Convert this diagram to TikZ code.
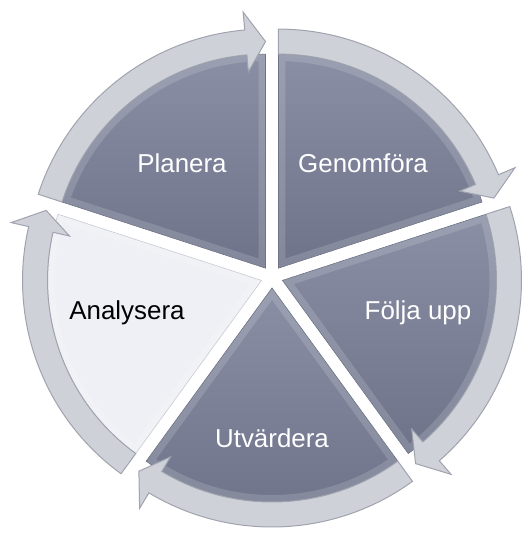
\documentclass[tikz,border=0pt]{standalone}
\usepackage{fontspec}
\setmainfont{Liberation Sans}
\usetikzlibrary{calc}

\definecolor{slateTop}{HTML}{8A8FA5}
\definecolor{slateBot}{HTML}{6E738A}
\definecolor{slateEdge}{HTML}{5F6478}
\definecolor{paleFill}{HTML}{EEF0F5}
\definecolor{paleEdge}{HTML}{C4C7D1}
\definecolor{ringFill}{HTML}{CFD1D9}
\definecolor{ringEdge}{HTML}{9FA3AE}

\begin{document}
\begin{tikzpicture}
    [
        x=1bp, y=1bp,
        segment/.style      = {top color=slateTop, bottom color=slateBot, draw=slateEdge, line width=0.6},
        lightsegment/.style = {fill=paleFill, draw=paleEdge, line width=0.6},
        ringarrow/.style    = {fill=ringFill, draw=ringEdge, line width=1, line join=miter},
        phase/.style        = {text=white, font=\fontsize{26}{31}\selectfont}
    ]
    \useasboundingbox (0,0) rectangle (526,534);
    \coordinate (mid) at (272,257);

    % the five wedges, each pushed out a little along its middle
    \foreach \a/\b/\kind in {90/162/segment, 18/90/segment, -54/18/segment, -126/-54/segment, 162/234/lightsegment}
    {
        \pgfmathsetmacro\bis{(\a+\b)/2}
        \begin{scope}[shift={($(mid)+(\bis:11)$)}]
            \path[\kind] (0,0) -- (\a:214) arc[start angle=\a, end angle=\b, radius=214] -- cycle;
            \begin{scope}
                \clip (0,0) -- (\a:214) arc[start angle=\a, end angle=\b, radius=214] -- cycle;
                \draw[white, opacity=0.15, line width=14] (0,0) -- (\a:214) arc[start angle=\a, end angle=\b, radius=214] -- cycle;
            \end{scope}
        \end{scope}
    }

    % curved arrows round the outside
    \foreach \a/\b in {90/162, 18/90, -54/18, -126/-54, 162/234}
    {
        \pgfmathsetmacro\bis{(\a+\b)/2}
        \pgfmathsetmacro\h{\a+5}
        \begin{scope}[shift={($(mid)+(\bis:11)$)}]
            \path[ringarrow] (\b:239) arc[start angle=\b, end angle=\h, radius=239]
                -- (\h:257) -- (\a:226.5) -- (\h:197) -- (\h:214)
                arc[start angle=\h, end angle=\b, radius=214] -- cycle;
        \end{scope}
    }

    \node [phase] at (182,371) (planera) {Planera};
    \node [phase] at (363,371) (genomfora) {Genomföra};
    \node [phase] at (418,221) (foljaupp) {Följa upp};
    \node [phase] at (272,96) (utvardera) {Utvärdera};
    \node [phase, text=black] at (127,221) (analysera) {Analysera};
\end{tikzpicture}
\end{document}
